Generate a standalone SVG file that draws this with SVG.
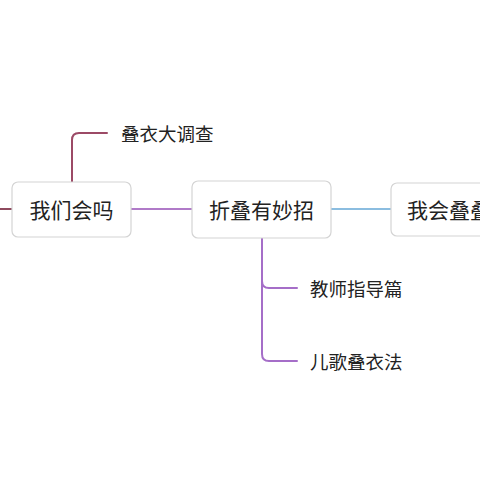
<svg xmlns="http://www.w3.org/2000/svg" width="480" height="480" viewBox="0 0 480 480">
<style>
.node rect{fill:#fff;stroke:#d4d4d4;stroke-width:1.2}
.main{font-family:"Noto Sans CJK SC","Noto Sans",sans-serif;font-size:21px;fill:#222}
.sub{font-family:"Noto Sans CJK SC","Noto Sans",sans-serif;font-size:18.5px;fill:#222}
.c{fill:none;stroke-width:2;stroke-linecap:round}
</style>
<rect width="480" height="480" fill="#fff"/>
<g id="connectors">
<path class="c" d="M0 209H12" stroke="#8e4a5e"/>
<path class="c" d="M72 182V140Q72 133 79 133H107" stroke="#9c4a66"/>
<path class="c" d="M131 209H192" stroke="#b07ac8"/>
<path class="c" d="M331 209H391" stroke="#8bbde0"/>
<path class="c" d="M262 238V281Q262 288 269 288H297" stroke="#a56ec8"/>
<path class="c" d="M262 280V354Q262 361 269 361H297" stroke="#a56ec8"/>
</g>
<g id="n1" class="node"><rect x="12" y="182" width="119" height="55" rx="6"/><text class="main" x="71.5" y="218" text-anchor="middle">我们会吗</text></g>
<g id="n2" class="node"><rect x="192" y="181" width="139" height="57" rx="6"/><text class="main" x="261.5" y="218" text-anchor="middle">折叠有妙招</text></g>
<g id="n3" class="node"><rect x="391" y="183" width="110" height="53" rx="6"/><text class="main" x="407" y="218">我会叠叠</text></g>
<g id="n4"><text class="sub" x="121" y="141">叠衣大调查</text></g>
<g id="n5"><text class="sub" x="310" y="296">教师指导篇</text></g>
<g id="n6"><text class="sub" x="310" y="369">儿歌叠衣法</text></g>
</svg>
